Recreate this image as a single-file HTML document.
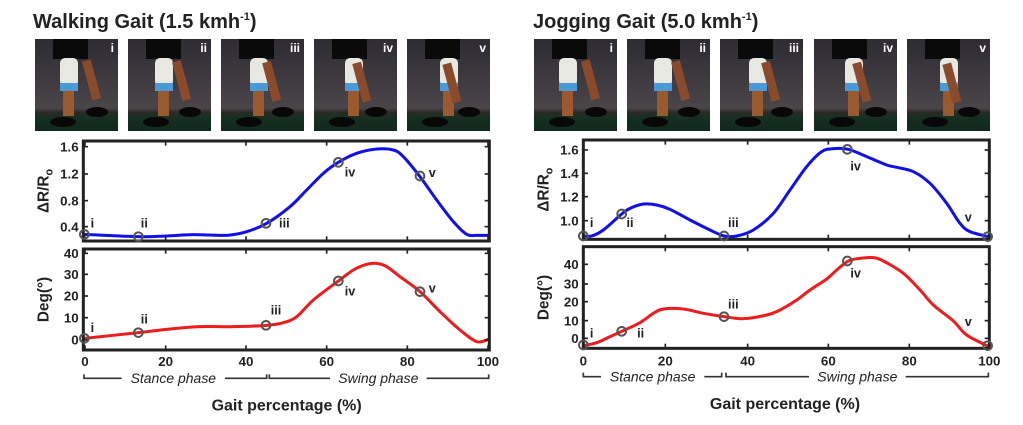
<!DOCTYPE html>
<html><head><meta charset="utf-8"><style>
html,body{margin:0;padding:0;background:#fff;width:1023px;height:425px;overflow:hidden}
svg{display:block}
text{font-family:"Liberation Sans",Arial,sans-serif}
</style></head><body>
<svg id="s" width="1023" height="425" viewBox="0 0 1023 425" xmlns="http://www.w3.org/2000/svg">
<defs>
<linearGradient id="bg" x1="0" y1="0" x2="0" y2="1">
<stop offset="0" stop-color="#2e2b33"/><stop offset="0.75" stop-color="#4a4549"/><stop offset="0.8" stop-color="#2a2a24"/><stop offset="0.85" stop-color="#163022"/><stop offset="1" stop-color="#12281c"/>
</linearGradient>
</defs>
<text x="33" y="28" font-size="20" font-weight="bold" fill="#222">Walking Gait (1.5 kmh<tspan font-size="11" dy="-8">-1</tspan><tspan dy="8">)</tspan></text>
<text x="533" y="28" font-size="20" font-weight="bold" fill="#222">Jogging Gait (5.0 kmh<tspan font-size="11" dy="-8">-1</tspan><tspan dy="8">)</tspan></text>
<g id="photos"></g>
<g id="L" transform="translate(0,130) scale(0.33333)"></g>
<g id="R" transform="translate(520,130) scale(0.33333)"></g>
</svg>
<script>
const NS="http://www.w3.org/2000/svg";
function el(p,t,a,txt){const e=document.createElementNS(NS,t);for(const k in a)e.setAttribute(k,a[k]);if(txt!=null)e.textContent=txt;p.appendChild(e);return e;}
const ph=document.getElementById('photos');
const labs=['i','ii','iii','iv','v'];
[[35,128,221,314,407],[534,627,720,814,907]].forEach(xs=>{xs.forEach((x,i)=>{
 el(ph,'rect',{x:x,y:39,width:83,height:92,fill:'url(#bg)'});
 el(ph,'rect',{x:x+18,y:39,width:35,height:20,fill:'#0a0a0a'});
 el(ph,'rect',{x:x+25+i*2,y:58,width:18,height:28,fill:'#e8e8e2',rx:5});
 el(ph,'rect',{x:x+25+i*2,y:83,width:18,height:8,fill:'#4a9ad8'});
 el(ph,'rect',{x:x+28+i*2,y:91,width:11,height:25,fill:'#9a5a30'});
 el(ph,'rect',{x:x+52-i*3,y:60,width:9,height:40,fill:'#8a4a2c',transform:`rotate(-15 ${x+56} 80)`});
 el(ph,'ellipse',{cx:x+28,cy:122,rx:13,ry:5,fill:'#080808'});
 el(ph,'ellipse',{cx:x+62,cy:112,rx:11,ry:5,fill:'#080808'});
 el(ph,'text',{x:x+79,y:52,'font-size':12,'font-weight':'bold',fill:'#fff','text-anchor':'end'},labs[i]);
});});
function cr(pts){let d=`M${pts[0][0]},${pts[0][1]}`;for(let i=0;i<pts.length-1;i++){const p0=pts[i-1]||pts[i],p1=pts[i],p2=pts[i+1],p3=pts[i+2]||p2;
 d+=` C${p1[0]+(p2[0]-p0[0])/6},${p1[1]+(p2[1]-p0[1])/6} ${p2[0]-(p3[0]-p1[0])/6},${p2[1]-(p3[1]-p1[1])/6} ${p2[0]},${p2[1]}`;}return d;}
function panel(g,c){
 const [x0,x1]=c.bx;
 el(g,'path',{d:cr(c.blue),fill:'none',stroke:'#1010ee','stroke-width':9,'stroke-linecap':'round'});
 el(g,'path',{d:cr(c.red),fill:'none',stroke:'#ee1c1c','stroke-width':9,'stroke-linecap':'round'});
 [[c.t,c.ty],[c.b,c.by]].forEach(([box,ys])=>{
  el(g,'rect',{x:x0,y:box[0],width:x1-x0,height:box[1]-box[0],fill:'none',stroke:'#222','stroke-width':9});
  c.xt.forEach(x=>{el(g,'line',{x1:x,x2:x,y1:box[1],y2:box[1]-14,stroke:'#222','stroke-width':5});el(g,'line',{x1:x,x2:x,y1:box[0],y2:box[0]+14,stroke:'#222','stroke-width':5});});
  ys.forEach(([v,y])=>{el(g,'line',{x1:x0,x2:x0+14,y1:y,y2:y,stroke:'#222','stroke-width':5});el(g,'line',{x1:x1,x2:x1-14,y1:y,y2:y,stroke:'#222','stroke-width':5});
   el(g,'text',{x:x0-14,y:y+14,'font-size':40,'font-weight':'bold',fill:'#222','text-anchor':'end'},v);});
 });
 c.mk.forEach(([x,y])=>el(g,'circle',{cx:x,cy:y,r:13,fill:'none',stroke:'#555','stroke-width':6}));
 c.lb.forEach(([t,x,y])=>el(g,'text',{x:x,y:y+13,'font-size':38,'font-weight':'bold',fill:'#222','text-anchor':'middle'},t));
 c.xt.forEach((x,i)=>el(g,'text',{x:x,y:c.xly,'font-size':40,'font-weight':'bold',fill:'#222','text-anchor':'middle'},String(i*20)));
 let t=el(g,'text',{transform:`translate(${c.ylx},${(c.t[0]+c.t[1])/2}) rotate(-90)`,'font-size':46,'font-weight':'bold',fill:'#222','text-anchor':'middle'},'ΔR/R');
 el(t,'tspan',{'font-size':32,dy:12},'o');
 el(g,'text',{transform:`translate(${c.ylx},${(c.b[0]+c.b[1])/2}) rotate(-90)`,'font-size':46,'font-weight':'bold',fill:'#222','text-anchor':'middle'},'Deg(°)');
 const py=c.py;
 c.ph.forEach(([a,b,txt,cx,w])=>{
  el(g,'path',{d:`M${a},${py-12} V${py} H${cx-w/2-10} M${cx+w/2+10},${py} H${b} V${py-12}`,fill:'none',stroke:'#333','stroke-width':5});
  el(g,'text',{x:cx,y:py+14,'font-size':42,'font-style':'italic',fill:'#222','text-anchor':'middle'},txt);
 });
 el(g,'text',{x:c.gx,y:c.gy,'font-size':48,'font-weight':'bold',fill:'#222','text-anchor':'middle'},'Gait percentage (%)');
}
panel(document.getElementById('L'),{
 bx:[250,1468],t:[33,333],b:[357,660],
 ty:[['1.6',50],['1.2',132],['0.8',212],['0.4',290]],
 by:[['40',370],['30',433],['20',498],['10',563],['0',630]],
 xt:[255,497,738,980,1222,1464],xly:708,ylx:145,
 blue:[[253,313],[415,320],[500,318],[580,314],[680,316],[740,305],[800,280],[870,230],[920,180],[970,130],[1015,97],[1070,70],[1130,57],[1180,60],[1210,80],[1260,140],[1310,210],[1360,275],[1400,313],[1430,316],[1465,316]],
 red:[[253,625],[415,608],[500,598],[600,590],[700,590],[800,586],[850,578],[890,560],[940,510],[1015,453],[1060,420],[1100,403],[1130,400],[1160,410],[1200,440],[1260,485],[1320,545],[1380,600],[1430,635],[1465,628]],
 mk:[[253,313],[415,320],[798,280],[1015,97],[1260,138],[253,625],[415,608],[798,586],[1015,453],[1260,485]],
 lb:[['i',277,280],['ii',433,280],['iii',853,280],['iv',1050,127],['v',1297,128],['i',277,593],['ii',433,568],['iii',828,540],['iv',1050,483],['v',1297,475]],
 py:745,ph:[[252,800,'Stance phase',520,290],[808,1466,'Swing phase',1135,270]],gx:860,gy:842
});
panel(document.getElementById('R'),{
 bx:[190,1408],t:[30,328],b:[350,655],
 ty:[['1.6',60],['1.4',130],['1.2',200],['1.0',272]],
 by:[['40',403],['30',462],['20',515],['10',572],['0',625]],
 xt:[190,436,683,925,1168,1408],xly:706,ylx:85,
 blue:[[190,318],[215,318],[250,300],[305,252],[330,235],[370,222],[410,225],[450,238],[510,270],[570,300],[612,318],[650,318],[700,300],[760,250],[810,180],[860,110],[905,65],[940,56],[985,58],[1040,80],[1100,105],[1130,112],[1180,125],[1230,160],[1280,220],[1320,280],[1350,305],[1405,320]],
 red:[[190,647],[230,638],[270,620],[305,604],[360,578],[400,550],[430,537],[490,537],[550,550],[612,560],[670,566],[740,555],[780,540],[830,510],[870,480],[920,447],[950,420],[985,393],[1020,385],[1060,383],[1090,393],[1150,430],[1200,480],[1240,525],[1300,573],[1340,615],[1403,648]],
 mk:[[190,318],[305,252],[612,318],[982,58],[1403,320],[190,645],[305,604],[612,560],[982,393],[1403,647]],
 lb:[['i',215,278],['ii',330,278],['iii',640,278],['iv',1007,108],['v',1345,262],['i',215,610],['ii',362,610],['iii',640,522],['iv',1007,430],['v',1345,575]],
 py:740,ph:[[190,605,'Stance phase',398,290],[618,1405,'Swing phase',1012,270]],gx:795,gy:837
});
</script>
</body></html>
